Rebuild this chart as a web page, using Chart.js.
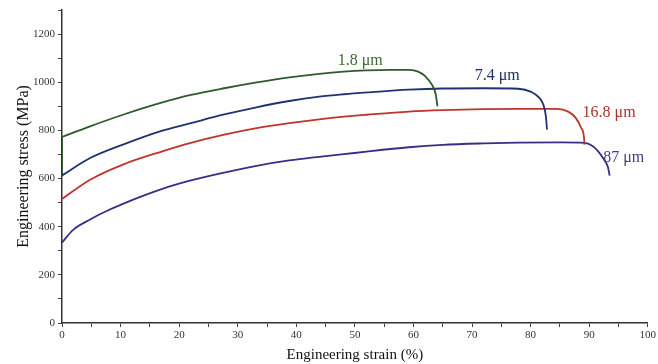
<!DOCTYPE html>
<html>
<head>
<meta charset="utf-8">
<script src="https://cdn.jsdelivr.net/npm/chart.js@4.4.1/dist/chart.umd.min.js"></script>
<style>
html,body{margin:0;padding:0;background:#fff;}
#wrap{width:658px;height:364px;position:relative;}
</style>
</head>
<body>
<div id="wrap"><canvas id="c" width="658" height="364"></canvas></div>
<script>
// Series names
const seriesNames = ["1.8 \u03bcm", "7.4 \u03bcm", "16.8 \u03bcm", "87 \u03bcm"];

// 1.8 µm (plastic part)
const strain18 = [0, 4.8, 10.4, 17, 22, 27.7, 33, 38.8, 43.9, 48.1, 52, 56, 59.2, 60.8, 62, 63.2, 63.8, 64.1];
const stress18 = [773, 817, 865, 915, 947, 975, 998, 1020, 1035, 1044, 1049, 1051.5, 1051, 1044, 1025, 988, 950, 900];
// 1.8 µm elastic segment visible along the stress axis
const strain18el = [0, 0];
const stress18el = [610, 773];

// 7.4 µm
const strain74 = [0, 4.8, 10.4, 17, 22, 27.7, 33, 38.8, 43.9, 48.1, 52.4, 59.2, 65, 72, 77.9, 80.1, 81.5, 82.2, 82.6, 82.8];
const stress74 = [613, 685, 741, 798, 830, 866, 895, 922, 940, 950, 958, 969, 974, 975, 973, 960, 935, 905, 860, 803];

// 16.8 µm
const strain168 = [0, 4.8, 10.4, 17, 22, 27.7, 33, 38.8, 43.9, 48.1, 52, 59.2, 65, 72, 77.9, 84.5, 86.5, 87.7, 88.6, 89.1, 89.2];
const stress168 = [515, 595, 658, 712, 748, 782, 808, 830, 846, 857, 865, 878, 884, 888, 889, 889, 877, 852, 812, 775, 741];

// 87 µm
const strain87 = [0, 1.9, 4.8, 7.6, 10.4, 17, 22, 27.7, 33, 38.8, 43.9, 48.1, 52, 59.2, 65, 72, 77.9, 85, 89.2, 90.5, 91.5, 92.5, 93.2, 93.5];
const stress87 = [334, 387, 430, 465, 495, 556, 592, 625, 652, 675, 690, 701, 712, 730, 740, 746, 749, 750, 748, 736, 714, 680, 648, 612];

// Curve-end label anchors (data coordinates)
const labelStrain = [50.9, 74.3, 93.4, 95.9];
const labelStress = [1090, 1028, 874, 687];

// Axis tick values
const xTickStep = 5, xLabelStep = 10;
const yTickStep = 100, yLabelStep = 200;

const lineColors = ["#2f5a2c", "#1f3370", "#c0342a", "#3b2c86"];
const textColors = ["#3a6a2e", "#1f2f60", "#a8352a", "#4a3a8e"];

function pts(xs, ys){ return xs.map((x,i)=>({x:x, y:ys[i]})); }

const datasets = [
  {label: seriesNames[0], data: pts(strain18, stress18), c: 0},
  {label: seriesNames[1], data: pts(strain74, stress74), c: 1},
  {label: seriesNames[2], data: pts(strain168, stress168), c: 2},
  {label: seriesNames[3], data: pts(strain87, stress87), c: 3},
  {label: seriesNames[0] + " elastic", data: pts(strain18el, stress18el), c: 0}
].map(d=>Object.assign(d, {
  showLine: true, borderColor: lineColors[d.c], backgroundColor: lineColors[d.c],
  borderWidth: 1.8, pointRadius: 0, cubicInterpolationMode: 'monotone', fill: false
}));

const SERIF = "'Liberation Serif','Times New Roman',serif";

const labelPlugin = {
  id: 'curveLabels',
  afterDatasetsDraw(chart){
    const ctx = chart.ctx, xs = chart.scales.x, ys = chart.scales.y;
    ctx.save();
    ctx.font = "16px " + SERIF;
    ctx.textAlign = "center";
    ctx.textBaseline = "middle";
    seriesNames.forEach((n,i)=>{
      ctx.fillStyle = textColors[i];
      ctx.fillText(n, xs.getPixelForValue(labelStrain[i]), ys.getPixelForValue(labelStress[i]));
    });
    ctx.restore();
  }
};

new Chart(document.getElementById('c'), {
  type: 'scatter',
  data: {datasets},
  plugins: [labelPlugin],
  options: {
    responsive: false,
    animation: false,
    layout: {padding: {top: 10, right: 8, left: 0, bottom: 0}},
    plugins: {legend: {display: false}, tooltip: {enabled: false}},
    scales: {
      x: {
        type: 'linear', min: 0, max: 100,
        afterFit(s){ s.height = 41; },
        ticks: {stepSize: xTickStep, autoSkip: false, maxRotation: 0, padding: 2, color: '#333',
          font: {family: SERIF, size: 11},
          callback: v => (v % xLabelStep === 0 ? String(v) : '')},
        grid: {display: true, drawOnChartArea: false, drawTicks: true, tickLength: 4, color: '#444'},
        border: {display: true, color: '#333', width: 1.5},
        title: {display: true, text: 'Engineering strain (%)', color: '#111',
          font: {family: SERIF, size: 15}, padding: {top: 0, bottom: 0}}
      },
      y: {
        type: 'linear', min: 0, max: 1300,
        afterFit(s){ s.width = 62; },
        ticks: {stepSize: yTickStep, autoSkip: false, padding: 3, color: '#333',
          font: {family: SERIF, size: 11},
          callback: v => (v % yLabelStep === 0 ? String(v) : '')},
        grid: {display: true, drawOnChartArea: false, drawTicks: true, tickLength: 4, color: '#444'},
        border: {display: true, color: '#333', width: 1.5},
        title: {display: true, text: 'Engineering stress (MPa)', color: '#111',
          font: {family: SERIF, size: 16}, padding: {top: 14, bottom: 0}}
      }
    }
  }
});
</script>
</body>
</html>
